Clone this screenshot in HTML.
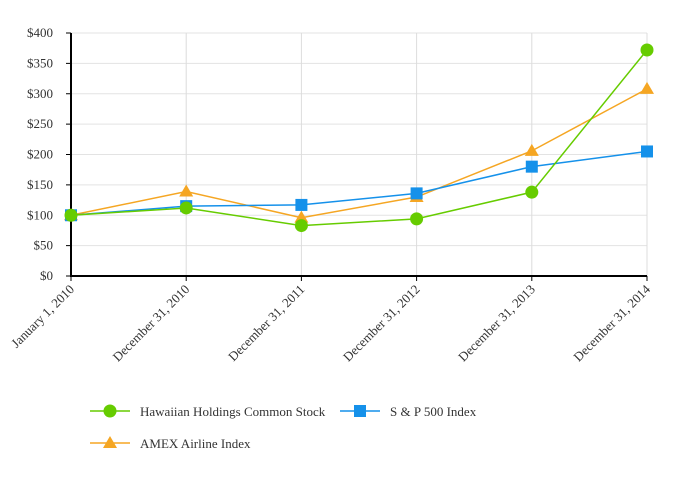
<!DOCTYPE html>
<html><head><meta charset="utf-8"><style>
body{margin:0;background:#fff;}
svg text{font-family:"Liberation Serif",serif;fill:#333;}
</style></head><body>
<svg id="c" width="680" height="481"></svg>
<script>
const categories=["January 1, 2010","December 31, 2010","December 31, 2011","December 31, 2012","December 31, 2013","December 31, 2014"];
const hawaiian=[100,112,83,94,138,372];
const sp500=[100,115,117,136,180,205];
const amex=[100,139,96,130,206,308];
const yTicks=[0,50,100,150,200,250,300,350,400];
const yTickLabels=["$0","$50","$100","$150","$200","$250","$300","$350","$400"];
const NS="http://www.w3.org/2000/svg";
const svg=document.getElementById('c');
const L=71,R=647,T=33,B=276;
const x=i=>L+(R-L)*i/(categories.length-1);
const y=v=>B-(B-T)*v/400;
function el(t,a,p){const e=document.createElementNS(NS,t);for(const k in a)e.setAttribute(k,a[k]);(p||svg).appendChild(e);return e;}
yTicks.forEach((v,i)=>{
  const g=el('line',{x1:L,x2:R,y1:y(v),y2:y(v),stroke:'#e3e3e3','stroke-width':1});
  
  
  el('line',{x1:L-5,x2:L,y1:y(v),y2:y(v),stroke:'#000'});
  const t=el('text',{x:L-18,y:y(v)+4,'text-anchor':'end','font-size':13});
  t.textContent=yTickLabels[i];
  
  
});
categories.forEach((c,i)=>{
  if(i>0){const g=el('line',{x1:x(i),x2:x(i),y1:T,y2:B,stroke:'#dcdcdc'});
  
  }
  el('line',{x1:x(i),x2:x(i),y1:B,y2:B+5,stroke:'#000'});
  const t=el('text',{x:x(i)+4,y:B+14,'text-anchor':'end','font-size':13,transform:`rotate(-45 ${x(i)+4} ${B+14})`});
  t.textContent=c;
  
  
});
const ax=el('path',{d:`M${L},${T} V${B} H${R}`,fill:'none',stroke:'#000','stroke-width':2});


function marker(kind,cx,cy,col,g){
  if(kind==='circle')return el('circle',{cx,cy,r:6.5,fill:col},g);
  if(kind==='square')return el('rect',{x:cx-6,y:cy-6,width:12,height:12,fill:col},g);
  return el('path',{d:`M${cx},${cy-7} L${cx+7},${cy+5} L${cx-7},${cy+5}Z`,fill:col},g);
}
const series=[
 {name:'amex',data:amex,col:'#f5a623',m:'tri'},
 {name:'sp500',data:sp500,col:'#1591ea',m:'square'},
 {name:'hawaiian',data:hawaiian,col:'#66cc00',m:'circle'}];
series.forEach(s=>{
  const g=el('g',{});
  
  
  el('polyline',{points:s.data.map((v,i)=>x(i)+','+y(v)).join(' '),fill:'none',stroke:s.col,'stroke-width':1.5},g);
  s.data.forEach((v,i)=>{const m=marker(s.m,x(i),y(v),s.col,g);
    
    });
});
const legend=[
 {label:'Hawaiian Holdings Common Stock',col:'#66cc00',m:'circle',x:90,y:411},
 {label:'S & P 500 Index',col:'#1591ea',m:'square',x:340,y:411},
 {label:'AMEX Airline Index',col:'#f5a623',m:'tri',x:90,y:443}];
legend.forEach(l=>{
  const g=el('g',{});
  
  
  el('line',{x1:l.x,x2:l.x+40,y1:l.y,y2:l.y,stroke:l.col,'stroke-width':1.5},g);
  marker(l.m,l.x+20,l.y,l.col,g);
  const t=el('text',{x:l.x+50,y:l.y+5,'font-size':13},g);
  t.textContent=l.label;
});
</script>
</body></html>
